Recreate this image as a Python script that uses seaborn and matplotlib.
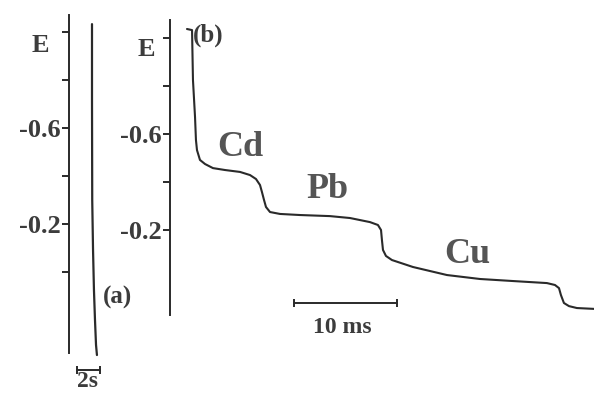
import matplotlib
matplotlib.use("Agg")
import matplotlib.pyplot as plt
import seaborn as sns
import pandas as pd

# ---- data ----
# curve (a): time (s) vs potential E (V)
t_a = [2.00, 2.00, 2.02, 2.09, 2.17, 2.26, 2.35, 2.43]
E_a = [-1.033, -0.717, -0.300, -0.092, 0.075, 0.200, 0.304, 0.346]

# curve (b): time (ms) vs potential E (V)
t_b = [1.65, 2.14, 2.23, 2.43, 2.52, 2.62, 2.91, 3.40, 4.17, 5.34, 6.80, 7.77,
       8.35, 8.74, 8.93, 9.13, 9.32, 9.71, 10.68, 12.62, 15.53, 17.48, 19.42,
       20.19, 20.49, 20.58, 20.68, 20.97, 21.55, 23.59, 26.89, 30.10, 33.30,
       36.60, 37.38, 37.77, 37.96, 38.25, 38.74, 39.51, 41.40]
E_b = [-1.0375, -1.033, -0.825, -0.671, -0.575, -0.533, -0.492, -0.475, -0.458,
       -0.450, -0.442, -0.429, -0.4125, -0.3875, -0.358, -0.325, -0.296, -0.275,
       -0.267, -0.2625, -0.258, -0.250, -0.233, -0.221, -0.200, -0.158, -0.117,
       -0.092, -0.075, -0.046, -0.0125, 0.004, 0.0125, 0.021, 0.029, 0.042,
       0.071, 0.104, 0.117, 0.125, 0.129]

tick_vals = [-1.0, -0.8, -0.6, -0.4, -0.2, 0.0]
tick_labels_a = ["", "", "-0.6", "", "-0.2", ""]
tick_vals_b = [-1.0, -0.8, -0.6, -0.4, -0.2]
tick_labels_b = ["", "", "-0.6", "", "-0.2"]

peak_labels = ["Cd", "Pb", "Cu"]
peak_t = [6.8, 15.3, 28.9]
peak_E = [-0.542, -0.367, -0.100]

scale_a = [0.70, 2.70]   # 2 s
scale_b = [12.04, 22.04]  # 10 ms

# ---- style ----
sns.set_style("white")
plt.rcParams["font.family"] = ["Liberation Serif", "DejaVu Serif"]
plt.rcParams["font.weight"] = "bold"

ink = "#2a2a2a"
txt = "#3c3c3c"
lbl = "#555555"

W, H = 594, 394
fig = plt.figure(figsize=(W / 100, H / 100), dpi=100)
fig.patch.set_facecolor("white")

ax_a = fig.add_axes([69 / W, 1 - 353 / H, 91 / W, (353 - 15) / H])
ax_b = fig.add_axes([170 / W, 1 - 315 / H, 424 / W, (315 - 20) / H])

df_a = pd.DataFrame({"t": t_a, "E": E_a})
df_b = pd.DataFrame({"t": t_b, "E": E_b})

sns.lineplot(data=df_a, x="t", y="E", ax=ax_a, color=ink, lw=1.6, sort=False,
             estimator=None)
sns.lineplot(data=df_b, x="t", y="E", ax=ax_b, color=ink, lw=1.5, sort=False,
             estimator=None)
for line in ax_a.lines + ax_b.lines:
    line.set_clip_on(False)

ax_a.set_xlim(0, 91 / 11.5)
ax_a.set_ylim(0.3375, -1.071)
ax_b.set_xlim(0, 41.17)
ax_b.set_ylim(0.154, -1.075)

for ax, tv, tl in ((ax_a, tick_vals, tick_labels_a), (ax_b, tick_vals_b, tick_labels_b)):
    ax.patch.set_alpha(0)
    for s in ("top", "right", "bottom"):
        ax.spines[s].set_visible(False)
    ax.spines["left"].set_color(ink)
    ax.spines["left"].set_linewidth(1.4)
    ax.set_xticks([])
    ax.set_yticks(tv)
    ax.set_yticklabels(tl)
    ax.tick_params(axis="y", which="both", left=True, direction="out",
                   length=5, width=1.4, color=ink,
                   labelsize=19, labelcolor=txt, pad=1)
    ax.set_xlabel("")
    ax.set_ylabel("")

# E labels
ax_a.text(-2.52, -0.942, "E", ha="center", va="center", fontsize=19,
          color=txt, fontweight="bold", clip_on=False)
ax_b.text(-2.33, -0.954, "E", ha="center", va="center", fontsize=19,
          color=txt, fontweight="bold", clip_on=False)

# panel labels
ax_a.text(4.26, 0.104, "(a)", ha="center", va="center", fontsize=18,
          color=txt, fontweight="bold", clip_on=False)
ax_b.text(3.69, -1.012, "(b)", ha="center", va="center", fontsize=18,
          color=txt, fontweight="bold", clip_on=False)

# peak labels
for name, t, e in zip(peak_labels, peak_t, peak_E):
    ax_b.text(t, e, name, ha="center", va="center", fontsize=26,
              color=lbl, fontweight="bold", clip_on=False)

# scale bars
ax_a.plot(scale_a, [0.408, 0.408], color=ink, lw=1.4, marker="|", ms=6,
          mew=1.4, clip_on=False)
ax_a.text(sum(scale_a) / 2 - 0.05, 0.458, "2s", ha="center", va="center",
          fontsize=17, color=txt, fontweight="bold", clip_on=False)
ax_b.plot(scale_b, [0.104, 0.104], color=ink, lw=1.4, marker="|", ms=6,
          mew=1.4, clip_on=False)
ax_b.text(sum(scale_b) / 2 - 0.3, 0.204, "10 ms", ha="center", va="center",
          fontsize=17, color=txt, fontweight="bold", clip_on=False)

fig.savefig("out.png", dpi=100, facecolor="white")
